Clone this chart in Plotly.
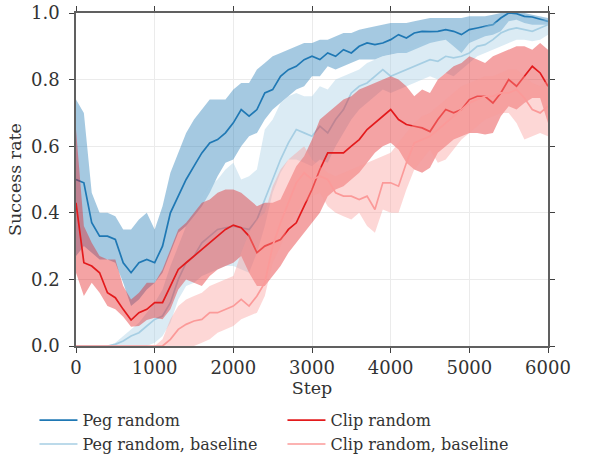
import plotly.graph_objects as go

steps = list(range(0, 6001, 100))

peg_mean = [0.50, 0.49, 0.37, 0.33, 0.33, 0.32, 0.25, 0.22, 0.25, 0.26,
            0.25, 0.30, 0.40, 0.45, 0.50, 0.54, 0.58, 0.61, 0.62, 0.64,
            0.67, 0.71, 0.69, 0.71, 0.76, 0.77, 0.81, 0.83, 0.84, 0.86,
            0.87, 0.86, 0.88, 0.87, 0.89, 0.88, 0.90, 0.91, 0.905, 0.91,
            0.92, 0.935, 0.925, 0.94, 0.945, 0.944, 0.945, 0.95, 0.945, 0.935,
            0.95, 0.955, 0.96, 0.965, 0.985, 1.0, 0.998, 0.99, 0.988, 0.982,
            0.975]
peg_hi = [0.74, 0.70, 0.46, 0.40, 0.40, 0.39, 0.35, 0.35, 0.38, 0.40,
          0.35, 0.42, 0.52, 0.58, 0.64, 0.68, 0.71, 0.74, 0.74, 0.74,
          0.77, 0.79, 0.79, 0.83, 0.85, 0.87, 0.88, 0.89, 0.90, 0.91,
          0.91, 0.92, 0.92, 0.93, 0.94, 0.94, 0.95, 0.955, 0.96, 0.965,
          0.97, 0.97, 0.97, 0.975, 0.98, 0.985, 0.985, 0.985, 0.985, 0.985,
          0.99, 0.99, 0.99, 0.995, 1.0, 1.0, 1.0, 1.0, 0.995, 0.99,
          0.985]
peg_lo = [0.27, 0.30, 0.28, 0.26, 0.26, 0.25, 0.19, 0.12, 0.14, 0.17,
          0.19, 0.22, 0.28, 0.34, 0.36, 0.39, 0.42, 0.46, 0.51, 0.55,
          0.56, 0.60, 0.63, 0.64, 0.68, 0.71, 0.73, 0.75, 0.77, 0.78,
          0.81, 0.81, 0.84, 0.83, 0.84, 0.85, 0.86, 0.86, 0.86, 0.87,
          0.875, 0.88, 0.88, 0.89, 0.90, 0.91, 0.915, 0.92, 0.90, 0.88,
          0.91, 0.92, 0.93, 0.935, 0.945, 0.975, 0.98, 0.97, 0.965, 0.965,
          0.965]

pegb_mean = [0.0, 0.0, 0.0, 0.0, 0.0, 0.005, 0.015, 0.03, 0.04, 0.06,
             0.08, 0.09, 0.13, 0.20, 0.25, 0.27, 0.31, 0.33, 0.35, 0.355,
             0.36, 0.355, 0.35, 0.38, 0.44, 0.50, 0.56, 0.61, 0.65, 0.64,
             0.63, 0.66, 0.64, 0.68, 0.71, 0.76, 0.78, 0.79, 0.81, 0.83,
             0.81, 0.82, 0.83, 0.84, 0.85, 0.86, 0.855, 0.87, 0.865, 0.87,
             0.88, 0.90, 0.905, 0.92, 0.94, 0.95, 0.955, 0.95, 0.945, 0.955,
             0.965]
pegb_hi = [0.0, 0.0, 0.0, 0.0, 0.0, 0.01, 0.03, 0.05, 0.07, 0.10,
           0.13, 0.17, 0.24, 0.30, 0.36, 0.40, 0.45, 0.48, 0.50, 0.53,
           0.55, 0.50, 0.51, 0.53, 0.65, 0.68, 0.73, 0.75, 0.76, 0.75,
           0.75, 0.78, 0.77, 0.80, 0.81, 0.82, 0.83, 0.85, 0.86, 0.87,
           0.875, 0.88, 0.89, 0.90, 0.91, 0.925, 0.925, 0.93, 0.925, 0.93,
           0.935, 0.95, 0.96, 0.97, 0.975, 0.98, 0.98, 0.985, 0.98, 0.98,
           0.98]
pegb_lo = [0.0, 0.0, 0.0, 0.0, 0.0, 0.0, 0.0, 0.0, 0.0, 0.0,
           0.01, 0.03, 0.07, 0.14, 0.18, 0.19, 0.21, 0.22, 0.23, 0.24,
           0.24, 0.23, 0.22, 0.28, 0.36, 0.46, 0.52, 0.56, 0.56, 0.55,
           0.54, 0.56, 0.55, 0.60, 0.64, 0.68, 0.71, 0.73, 0.75, 0.77,
           0.76, 0.77, 0.78, 0.79, 0.80, 0.81, 0.80, 0.82, 0.81, 0.83,
           0.85, 0.87, 0.88, 0.89, 0.90, 0.91, 0.92, 0.92, 0.915, 0.92,
           0.935]

clip_mean = [0.43, 0.25, 0.24, 0.22, 0.16, 0.145, 0.11, 0.078, 0.10, 0.11,
             0.13, 0.13, 0.18, 0.23, 0.25, 0.27, 0.29, 0.31, 0.33, 0.35,
             0.363, 0.355, 0.33, 0.28, 0.30, 0.31, 0.32, 0.35, 0.37, 0.42,
             0.47, 0.53, 0.58, 0.58, 0.58, 0.60, 0.62, 0.65, 0.67, 0.69,
             0.71, 0.68, 0.665, 0.66, 0.655, 0.644, 0.68, 0.71, 0.70, 0.71,
             0.74, 0.75, 0.75, 0.73, 0.76, 0.80, 0.78, 0.81, 0.84, 0.82,
             0.78]
clip_hi = [0.65, 0.36, 0.31, 0.27, 0.26, 0.26, 0.18, 0.14, 0.16, 0.19,
           0.19, 0.23, 0.29, 0.35, 0.37, 0.40, 0.43, 0.44, 0.46, 0.47,
           0.47, 0.46, 0.44, 0.42, 0.43, 0.43, 0.44, 0.49, 0.54, 0.57,
           0.62, 0.68, 0.70, 0.72, 0.74, 0.75, 0.77, 0.78, 0.79, 0.80,
           0.81, 0.80, 0.78, 0.75, 0.77, 0.76, 0.80, 0.82, 0.84, 0.85,
           0.87, 0.86, 0.85, 0.87, 0.88, 0.89, 0.90, 0.90, 0.89, 0.91,
           0.89]
clip_lo = [0.22, 0.15, 0.19, 0.16, 0.12, 0.11, 0.088, 0.058, 0.06, 0.078,
           0.085, 0.08, 0.11, 0.17, 0.20, 0.19, 0.18, 0.21, 0.23, 0.24,
           0.25, 0.27, 0.22, 0.18, 0.18, 0.21, 0.24, 0.28, 0.31, 0.34,
           0.37, 0.40, 0.45, 0.47, 0.48, 0.50, 0.52, 0.55, 0.58, 0.60,
           0.61, 0.59, 0.55, 0.53, 0.52, 0.535, 0.58, 0.60, 0.62, 0.63,
           0.64, 0.64, 0.635, 0.64, 0.69, 0.72, 0.71, 0.73, 0.745, 0.745,
           0.67]

clipb_mean = [0.0, 0.0, 0.0, 0.0, 0.0, 0.0, 0.0, 0.0, 0.0, 0.0,
              0.0, 0.0, 0.02, 0.05, 0.065, 0.075, 0.08, 0.10, 0.10, 0.11,
              0.12, 0.14, 0.12, 0.15, 0.19, 0.30, 0.37, 0.43, 0.49, 0.52,
              0.50, 0.51, 0.50, 0.46, 0.45, 0.45, 0.44, 0.45, 0.41, 0.49,
              0.49, 0.48, 0.55, 0.61, 0.62, 0.63, 0.65, 0.67, 0.69, 0.71,
              0.73, 0.74, 0.75, 0.75, 0.76, 0.76, 0.77, 0.745, 0.71, 0.70,
              0.72]
clipb_hi = [0.0, 0.0, 0.0, 0.0, 0.0, 0.0, 0.0, 0.0, 0.0, 0.0,
            0.0, 0.02, 0.08, 0.12, 0.14, 0.15, 0.16, 0.18, 0.19, 0.20,
            0.21, 0.28, 0.34, 0.38, 0.40, 0.48, 0.53, 0.56, 0.58, 0.60,
            0.56, 0.54, 0.52, 0.51, 0.52, 0.53, 0.54, 0.55, 0.56, 0.57,
            0.58, 0.61, 0.64, 0.67, 0.69, 0.70, 0.72, 0.74, 0.76, 0.78,
            0.79, 0.80, 0.81, 0.81, 0.82, 0.83, 0.83, 0.81, 0.79, 0.78,
            0.80]
clipb_lo = [0.0, 0.0, 0.0, 0.0, 0.0, 0.0, 0.0, 0.0, 0.0, 0.0,
            0.0, 0.0, 0.0, 0.0, 0.0, 0.0, 0.01, 0.02, 0.04, 0.05,
            0.06, 0.08, 0.09, 0.10, 0.15, 0.25, 0.30, 0.36, 0.40, 0.43,
            0.45, 0.46, 0.42, 0.40, 0.39, 0.38, 0.40, 0.36, 0.34, 0.41,
            0.40, 0.40, 0.47, 0.53, 0.56, 0.59, 0.55, 0.56, 0.59, 0.62,
            0.64, 0.66, 0.68, 0.69, 0.70, 0.70, 0.67, 0.62, 0.63, 0.64,
            0.63]

series = [
    ("Peg random", peg_mean, peg_lo, peg_hi, "#1f78b4", "rgba(31,120,180,0.4)", 1),
    ("Peg random, baseline", pegb_mean, pegb_lo, pegb_hi, "#a6cee3", "rgba(166,206,227,0.4)", 3),
    ("Clip random", clip_mean, clip_lo, clip_hi, "#e31a1c", "rgba(227,26,28,0.4)", 2),
    ("Clip random, baseline", clipb_mean, clipb_lo, clipb_hi, "#fb9a99", "rgba(251,154,153,0.4)", 4),
]

FONT = "DejaVu Serif"
fig = go.Figure()
for name, m, lo, hi, col, fcol, rank in series:
    fig.add_trace(go.Scatter(x=steps, y=lo, mode="lines", line=dict(width=0),
                             showlegend=False, hoverinfo="skip"))
    fig.add_trace(go.Scatter(x=steps, y=hi, mode="lines", line=dict(width=0),
                             fill="tonexty", fillcolor=fcol,
                             showlegend=False, hoverinfo="skip"))
    fig.add_trace(go.Scatter(x=steps, y=m, mode="lines", name=name,
                             line=dict(color=col, width=1.7),
                             legendrank=rank))

axis_common = dict(
    showline=True, linecolor="#606060", linewidth=1.6, mirror="allticks",
    ticks="outside", ticklen=5, tickwidth=1.2, tickcolor="#404040",
    showgrid=True, gridcolor="#ebebeb", gridwidth=1, zeroline=False,
    automargin=False,
    tickfont=dict(family=FONT, size=18, color="#333333"),
)
fig.update_xaxes(range=[0, 6000], tickvals=[0, 1000, 2000, 3000, 4000, 5000, 6000],
                 ticklabelstandoff=0,
                 title=dict(text="Step", font=dict(family=FONT, size=17.5, color="#333333"),
                            standoff=0),
                 **axis_common)
fig.update_yaxes(range=[0, 1.0], tickvals=[0, 0.2, 0.4, 0.6, 0.8, 1.0],
                 tickformat=".1f", ticklabelstandoff=6,
                 title=dict(text="Success rate", font=dict(family=FONT, size=17.5, color="#333333"),
                            standoff=5),
                 **axis_common)

fig.update_layout(
    width=598, height=458,
    margin=dict(l=76, r=50, t=13, b=112, autoexpand=False),
    plot_bgcolor="white", paper_bgcolor="white",
    font=dict(family=FONT, color="#333333"),
    legend=dict(orientation="h", x=-0.088, xanchor="left", y=-0.172, yanchor="top",
                font=dict(family=FONT, size=16, color="#333333"),
                itemwidth=38, entrywidth=195, traceorder="normal",
                bgcolor="rgba(0,0,0,0)"),
)

fig.write_html("out.html",
               config={"displayModeBar": False},
               post_script="document.body.style.margin='0';document.body.style.overflow='hidden';")
